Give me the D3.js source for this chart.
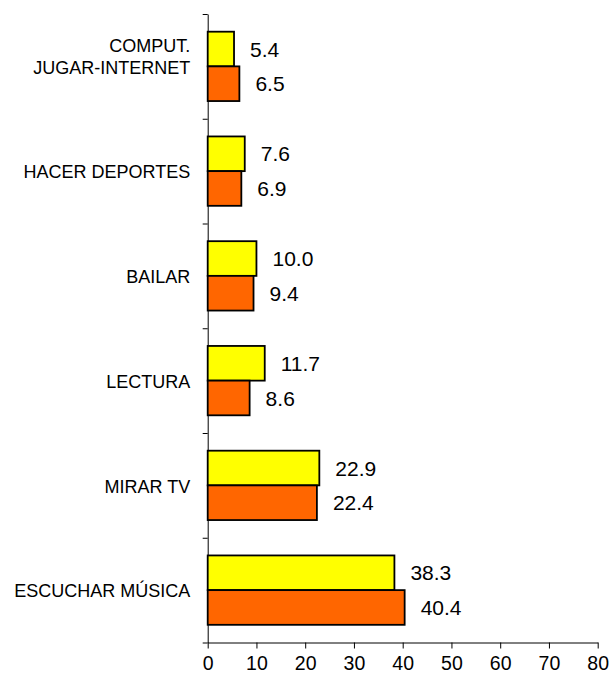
<!DOCTYPE html>
<html>
<head>
<meta charset="utf-8">
<script src="https://cdn.jsdelivr.net/npm/d3@7"></script>
<style>
  body { margin: 0; background: #fff; }
  text { font-family: "Liberation Sans", Arial, sans-serif; fill: #000; }
</style>
</head>
<body>
<div id="chart"></div>
<script>
// Categories, top to bottom
const categories = [
    ["COMPUT.", "JUGAR-INTERNET"],
    ["HACER DEPORTES"],
    ["BAILAR"],
    ["LECTURA"],
    ["MIRAR TV"],
    ["ESCUCHAR MÚSICA"]
];
const yellowValues = [5.4, 7.6, 10.0, 11.7, 22.9, 38.3];
const orangeValues = [6.5, 6.9, 9.4, 8.6, 22.4, 40.4];
const xTicks = [0, 10, 20, 30, 40, 50, 60, 70, 80];

const W = 610, H = 674;
const margin = { top: 14, right: 12.3, bottom: 31.5, left: 207.7 };
const width = W - margin.left - margin.right;
const height = H - margin.top - margin.bottom;

const data = categories.map((c, i) => ({
    key: i, label: c, yellow: yellowValues[i], orange: orangeValues[i]
}));

const svg = d3.select("#chart").append("svg")
    .attr("width", W)
    .attr("height", H)
    .append("g")
    .attr("transform", `translate(${margin.left},${margin.top})`);

const x = d3.scaleLinear().domain([0, 80]).range([0, width]);

const y = d3.scaleBand()
    .domain(data.map(d => d.key))
    .range([0, height])
    .padding(0);

const ySub = d3.scaleBand()
    .domain(["yellow", "orange"])
    .range([0, y.bandwidth()])
    .paddingInner(0)
    .paddingOuter(0.51);

const colors = { yellow: "#ffff00", orange: "#ff6600" };

// x axis
const xAxis = svg.append("g")
    .attr("transform", `translate(0,${height})`)
    .call(d3.axisBottom(x).tickValues(xTicks).tickSize(6).tickSizeOuter(0).tickPadding(7.5));
xAxis.selectAll("text").style("font-size", "19.5px");
xAxis.selectAll("line, path").attr("stroke", "#000");

// y axis: ticks at category boundaries
const yLin = d3.scaleLinear().domain([0, categories.length]).range([0, height]);
const yAxis = svg.append("g")
    .call(d3.axisLeft(yLin).ticks(categories.length).tickFormat("").tickSize(5).tickSizeOuter(0));
yAxis.selectAll("line, path").attr("stroke", "#000");

// bars
const groups = svg.selectAll(".cat")
    .data(data)
    .join("g")
    .attr("class", "cat")
    .attr("transform", d => `translate(0,${y(d.key)})`);

const series = d => ["yellow", "orange"].map(s => ({ s, v: d[s] }));

groups.selectAll("rect")
    .data(series)
    .join("rect")
    .attr("x", x(0))
    .attr("y", d => ySub(d.s))
    .attr("width", d => x(d.v) - x(0))
    .attr("height", ySub.bandwidth())
    .attr("fill", d => colors[d.s])
    .attr("stroke", "#000")
    .attr("stroke-width", 1.8);

groups.selectAll("text.val")
    .data(series)
    .join("text")
    .attr("class", "val")
    .attr("x", d => x(d.v) + 16)
    .attr("y", d => ySub(d.s) + ySub.bandwidth() / 2)
    .attr("dy", "0.36em")
    .style("font-size", "21px")
    .text(d => d.v.toFixed(1));

// category labels
groups.append("text")
    .attr("text-anchor", "end")
    .style("font-size", "18px")
    .attr("y", y.bandwidth() / 2)
    .each(function(d) {
        const t = d3.select(this);
        const n = d.label.length;
        d.label.forEach((line, i) => {
            t.append("tspan")
                .attr("x", -17.5)
                .attr("dy", i === 0 ? `${0.4 - 1.2 * (n - 1)}em` : "1.2em")
                .text(line);
        });
    });
</script>
</body>
</html>
